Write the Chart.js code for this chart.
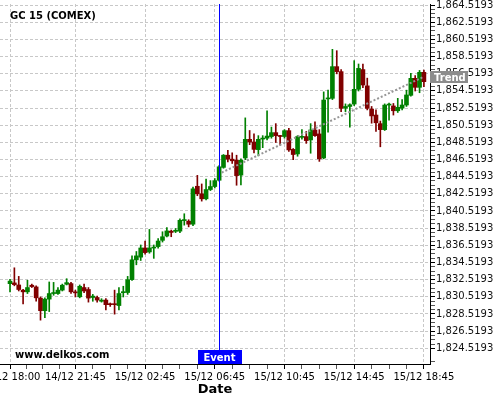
<!DOCTYPE html>
<html>
<head>
<meta charset="utf-8">
<title>GC 15 (COMEX)</title>
<script src="https://cdn.jsdelivr.net/npm/chart.js@4"></script>
<style>
  body { margin: 0; background: #fff; }
</style>
</head>
<body>
<canvas id="chart" width="500" height="400"></canvas>
<script>
// 15 minute candles, 14/12 18:00 -> 15/12 18:45
const openPrices = [
  1832.05, 1832.14, 1831.90, 1831.29, 1831.10, 1831.87, 1831.67, 1830.37, 1828.90, 1830.25,
  1830.90, 1830.90, 1831.30, 1831.98, 1832.06, 1831.10, 1830.52, 1831.60, 1831.37, 1830.44,
  1830.44, 1830.00, 1830.14, 1829.67, 1829.65, 1829.50, 1831.00, 1831.02, 1832.52, 1834.83,
  1835.14, 1836.21, 1835.75, 1836.20, 1836.37, 1837.10, 1837.60, 1838.17, 1838.15, 1838.17,
  1839.40, 1839.33, 1838.98, 1843.40, 1842.52, 1841.94, 1843.02, 1843.37, 1844.10, 1845.60,
  1847.02, 1846.56, 1846.44, 1844.70, 1846.70, 1848.87, 1848.56, 1847.67, 1848.90, 1849.00,
  1849.19, 1849.65, 1849.27, 1849.20, 1849.88, 1847.70, 1847.17, 1849.10, 1849.19, 1848.80,
  1849.96, 1849.50, 1846.70, 1853.58, 1853.65, 1857.34, 1856.76, 1852.50, 1852.70, 1852.98,
  1854.70, 1857.00, 1855.10, 1852.40, 1851.70, 1850.70, 1850.00, 1852.86, 1852.76, 1852.20,
  1852.50, 1852.87, 1854.00, 1855.98, 1854.93, 1856.68
];
const highPrices = [
  1832.55, 1833.90, 1832.90, 1831.40, 1832.45, 1832.00, 1831.80, 1830.50, 1830.40, 1832.25,
  1832.20, 1831.60, 1832.00, 1832.63, 1832.20, 1831.30, 1831.90, 1832.00, 1831.60, 1830.80,
  1830.60, 1830.30, 1830.30, 1829.80, 1831.30, 1831.60, 1831.75, 1832.90, 1835.29, 1835.80,
  1836.56, 1837.00, 1838.37, 1836.56, 1837.30, 1838.10, 1838.60, 1838.30, 1838.48, 1839.60,
  1840.20, 1839.50, 1843.30, 1844.67, 1843.67, 1844.25, 1844.06, 1844.30, 1845.80, 1847.10,
  1847.60, 1847.30, 1847.02, 1846.60, 1851.37, 1849.90, 1849.50, 1849.30, 1849.30, 1852.20,
  1850.30, 1850.70, 1849.35, 1850.00, 1850.15, 1847.80, 1849.30, 1850.00, 1849.80, 1850.70,
  1850.90, 1850.00, 1854.40, 1854.60, 1859.36, 1859.20, 1857.00, 1853.00, 1853.00, 1858.04,
  1857.65, 1857.65, 1856.00, 1852.70, 1852.30, 1851.00, 1853.00, 1853.10, 1853.05, 1853.65,
  1853.50, 1854.60, 1856.56, 1856.30, 1856.90, 1856.95
];
const lowPrices = [
  1831.10, 1831.80, 1831.20, 1829.70, 1830.90, 1831.60, 1830.00, 1827.80, 1828.10, 1828.80,
  1830.70, 1830.80, 1831.20, 1831.90, 1830.90, 1830.50, 1830.40, 1831.00, 1829.90, 1830.00,
  1829.90, 1829.90, 1829.00, 1829.40, 1828.50, 1829.00, 1830.50, 1830.80, 1832.44, 1834.25,
  1834.75, 1835.50, 1835.60, 1835.00, 1836.20, 1836.90, 1837.50, 1837.52, 1838.00, 1838.00,
  1838.87, 1838.67, 1838.80, 1842.30, 1841.67, 1841.80, 1842.90, 1843.20, 1844.00, 1845.50,
  1846.25, 1846.06, 1843.52, 1843.56, 1846.50, 1848.25, 1847.30, 1846.94, 1847.90, 1848.80,
  1849.00, 1848.50, 1848.20, 1849.00, 1847.45, 1846.50, 1846.90, 1848.90, 1848.40, 1847.25,
  1849.20, 1846.30, 1846.60, 1849.70, 1853.50, 1856.50, 1852.10, 1852.10, 1850.30, 1852.80,
  1854.50, 1854.90, 1852.30, 1850.75, 1849.80, 1848.00, 1849.90, 1851.10, 1851.70, 1852.00,
  1852.30, 1852.70, 1853.90, 1854.50, 1854.30, 1855.00
];
const closePrices = [
  1832.35, 1831.94, 1831.37, 1831.10, 1831.60, 1831.71, 1830.40, 1828.90, 1830.25, 1830.90,
  1830.95, 1831.30, 1831.87, 1832.17, 1831.10, 1830.98, 1831.75, 1831.20, 1830.37, 1830.60,
  1830.14, 1830.13, 1829.60, 1829.60, 1829.60, 1830.90, 1831.05, 1832.52, 1834.83, 1835.29,
  1836.21, 1835.67, 1836.21, 1836.30, 1837.02, 1837.52, 1838.20, 1838.02, 1838.25, 1839.44,
  1839.45, 1838.98, 1843.10, 1842.52, 1841.94, 1843.02, 1843.37, 1844.06, 1845.67, 1847.02,
  1846.56, 1846.37, 1844.64, 1846.44, 1848.87, 1848.56, 1847.70, 1848.87, 1849.00, 1849.25,
  1849.65, 1849.30, 1849.20, 1849.88, 1847.64, 1847.10, 1849.19, 1849.20, 1848.72, 1849.96,
  1849.30, 1846.60, 1853.45, 1853.65, 1857.34, 1856.76, 1852.48, 1852.70, 1852.90, 1854.70,
  1857.14, 1855.20, 1852.48, 1851.60, 1850.80, 1850.00, 1852.86, 1852.94, 1852.20, 1852.60,
  1852.87, 1854.04, 1855.98, 1854.93, 1856.68, 1855.59
];

const tickIndex = [0, 15, 31, 47, 63, 79, 95];
const tickLabels = ['14/12 18:00', '14/12 21:45', '15/12 02:45', '15/12 06:45', '15/12 10:45', '15/12 14:45', '15/12 18:45'];
const yTicks = [
  1824.5193, 1826.5193, 1828.5193, 1830.5193, 1832.5193, 1834.5193, 1836.5193,
  1838.5193, 1840.5193, 1842.5193, 1844.5193, 1846.5193, 1848.5193, 1850.5193,
  1852.5193, 1854.5193, 1856.5193, 1858.5193, 1860.5193, 1862.5193, 1864.5193
];
const eventIndex = 48;
const trendX = [48.6, 95];
const trendY = [1845.0, 1856.17];

const chartTitle = 'GC 15 (COMEX)';
const siteName = 'www.delkos.com';

const FONT = '"DejaVu Sans", sans-serif';
const up = '#008000';
const down = '#800000';
const gridColor = '#c8c8c8';

const colors = openPrices.map((o, i) => closePrices[i] >= o ? up : down);
const bodies = openPrices.map((o, i) => ({ x: i, y: [o, closePrices[i]] }));
const wicks = openPrices.map((o, i) => ({ x: i, y: [lowPrices[i], highPrices[i]] }));
const trendPoints = trendX.map((x, i) => ({ x: x, y: trendY[i] }));

// x ticks: labelled ones plus 3 small ones in between
const xTickList = [];
tickIndex.forEach((v, k) => {
  xTickList.push({ value: v, main: true });
  if (k < tickIndex.length - 1) {
    const step = (tickIndex[k + 1] - v) / 4;
    for (let j = 1; j < 4; j++) xTickList.push({ value: v + step * j, main: false });
  }
});
// y ticks: labelled every 2, small every 0.5
const yTickList = [];
yTickList.push({ value: yTicks[0] - 1.5, main: false });
yTicks.forEach((v, k) => {
  yTickList.push({ value: v, main: true });
  if (k < yTicks.length - 1) {
    for (let j = 1; j < 4; j++) yTickList.push({ value: v + 0.5 * j, main: false });
  }
});

const fmt = new Intl.NumberFormat('en-US', { minimumFractionDigits: 4, maximumFractionDigits: 4 });

const overlay = {
  id: 'overlay',
  afterDatasetsDraw(chart) {
    const { ctx, chartArea, scales } = chart;
    const x = Math.round(scales.x.getPixelForValue(eventIndex)) + 0.5;
    ctx.save();
    ctx.strokeStyle = '#0000ff';
    ctx.lineWidth = 1;
    ctx.beginPath();
    ctx.moveTo(x, chartArea.top);
    ctx.lineTo(x, chartArea.bottom);
    ctx.stroke();
    ctx.restore();
  },
  afterDraw(chart) {
    const { ctx, chartArea, scales } = chart;
    ctx.save();
    ctx.font = 'bold 10px ' + FONT;
    ctx.textBaseline = 'alphabetic';
    ctx.textAlign = 'left';
    ctx.fillStyle = '#000';
    ctx.fillText(chartTitle, 10, 19);
    ctx.fillText(siteName, 15, 358);

    // event tag
    const ex = Math.round(scales.x.getPixelForValue(eventIndex)) + 0.5;
    ctx.fillStyle = '#0000ff';
    ctx.fillRect(Math.round(ex - 22), chartArea.bottom - 14, 44, 14);
    ctx.fillStyle = '#fff';
    ctx.textAlign = 'center';
    ctx.fillText('Event', ex, chartArea.bottom - 3.5);

    // trend tag on the price axis
    const ty = scales.y.getPixelForValue(trendY[trendY.length - 1]);
    ctx.fillStyle = '#8c8c8c';
    ctx.fillRect(chartArea.right, Math.round(ty - 6), 38, 12);
    ctx.fillStyle = '#fff';
    ctx.textAlign = 'left';
    ctx.fillText('Trend', chartArea.right + 4, ty + 4);
    ctx.restore();
  }
};

const ctx = document.getElementById('chart').getContext('2d');
new Chart(ctx, {
  type: 'bar',
  data: {
    datasets: [
      {
        type: 'line',
        data: trendPoints,
        borderColor: '#969696',
        borderWidth: 2,
        borderDash: [2, 2],
        pointRadius: 0,
        order: 0
      },
      {
        data: bodies,
        backgroundColor: colors,
        barThickness: 4,
        minBarLength: 1,
        grouped: false,
        order: 1
      },
      {
        data: wicks,
        backgroundColor: colors,
        barThickness: 1,
        grouped: false,
        order: 2
      }
    ]
  },
  options: {
    responsive: false,
    animation: false,
    layout: { padding: { top: 4, left: 0, right: 0, bottom: 0 } },
    plugins: {
      legend: { display: false },
      tooltip: { enabled: false }
    },
    scales: {
      x: {
        type: 'linear',
        min: -2.3,
        max: 96.4,
        offset: false,
        grid: {
          offset: false,
          color: c => (c.tick && c.tick.main) ? gridColor : 'rgba(0,0,0,0)',
          tickColor: c => (c.tick && c.tick.main) ? '#000' : '#555',
          tickLength: 5,
          tickBorderDash: []
        },
        border: { color: '#000', width: 1, dash: [3, 2] },
        ticks: {
          autoSkip: false,
          maxRotation: 0,
          padding: 2,
          color: '#000',
          font: { family: FONT, size: 10 },
          callback: function (value, index, ticks) {
            const k = tickIndex.indexOf(value);
            return (ticks[index].main && k >= 0) ? tickLabels[k] : '';
          }
        },
        afterBuildTicks: s => { s.ticks = xTickList.map(t => ({ value: t.value, main: t.main })); },
        afterFit: s => { s.height = 36; s.paddingLeft = 0; s.paddingRight = 0; },
        title: {
          display: true,
          text: 'Date',
          color: '#000',
          font: { family: FONT, size: 13, weight: 'bold' },
          padding: { top: 0, bottom: 3 }
        }
      },
      y: {
        position: 'right',
        min: 1822.69,
        max: 1864.64,
        grid: {
          color: c => (c.tick && c.tick.main) ? gridColor : 'rgba(0,0,0,0)',
          tickColor: c => (c.tick && c.tick.main) ? '#000' : '#555',
          tickLength: 5,
          tickBorderDash: []
        },
        border: { color: '#000', width: 1, dash: [3, 2] },
        ticks: {
          autoSkip: false,
          padding: 1,
          color: '#111',
          font: { family: FONT, size: 10 },
          callback: function (value, index, ticks) {
            return ticks[index].main ? fmt.format(value) : '';
          }
        },
        afterBuildTicks: s => { s.ticks = yTickList.map(t => ({ value: t.value, main: t.main })); },
        afterFit: s => { s.width = 70; s.paddingTop = 0; s.paddingBottom = 0; }
      }
    }
  },
  plugins: [overlay]
});
</script>
</body>
</html>
